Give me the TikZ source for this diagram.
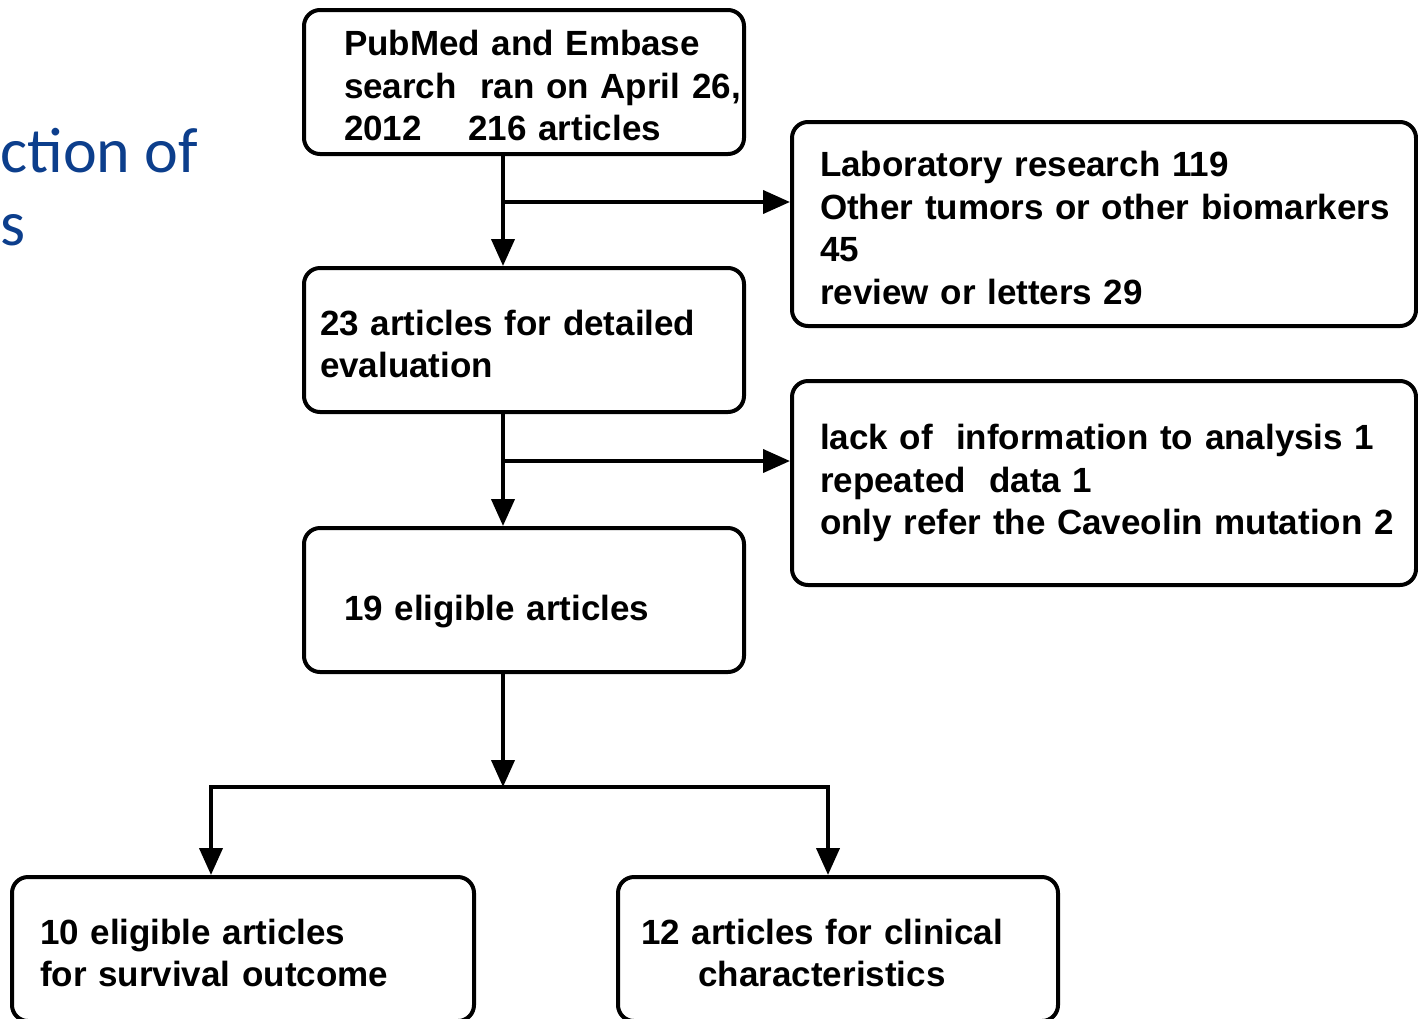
\documentclass[tikz,border=0pt]{standalone}
\usepackage{fontspec}
\setmainfont{Liberation Sans}
\newfontfamily\titlefont{Carlito}
\usetikzlibrary{arrows.meta}
\definecolor{slideblue}{RGB}{12,62,140}

\begin{document}
\begin{tikzpicture}[
    x=0.5pt, y=-0.5pt,
    stage/.style={draw, line width=2pt, rounded corners=8pt, inner xsep=0pt, inner ysep=0pt, text width=220pt, text height=16.5pt, minimum height=72pt, align=left, font=\fontsize{17.5}{21.3}\selectfont\bfseries},
    excl/.style={stage, text width=312pt, minimum height=102pt},
    indent/.style={execute at begin node={\leftskip=#1\rightskip=-12pt plus 2em}},
    arrow/.style={-{Triangle[length=13.5pt, width=11.5pt]}, line width=2pt}
]
\useasboundingbox (0,0) rectangle (1418,1018);

% cut-off slide title
\node[anchor=base west, inner sep=0pt, align=left, text=slideblue, font=\titlefont\fontsize{32}{36.5}\selectfont] (title) at (0,245) {ction of\\s};

\node[stage, indent=20pt] (search) at (524,82) {PubMed and Embase\\search\ \ ran on April 26,\\2012\ \ \ \ 216 articles};
\node[stage, indent=8pt] (eval) at (524,340) {23 articles for detailed\\evaluation};
\node[stage, indent=20pt, text height=20pt, text depth=0pt] (elig) at (524,600) {19 eligible articles};
\node[excl, indent=14pt] (lab) at (1104,224) {Laboratory research 119\\Other tumors or other biomarkers\\45\\review or letters 29};
\node[excl, indent=14pt, text height=13pt] (info) at (1104,483) {lack of\ \ information to analysis 1\\repeated\ \ data 1\\only refer the Caveolin mutation 2};
\node[stage, text width=231pt, indent=14pt] (surv) at (243,949) {10 eligible articles\\for survival outcome};
\node[stage, align=center, execute at begin node={\leftskip=0pt plus 1fil\rightskip=16pt plus 1fil\parfillskip=0pt}] (clin) at (838,949) {12 articles for clinical\\characteristics};

\coordinate (trunk) at (503,0);
\coordinate (split1) at (503,202);
\coordinate (split2) at (503,461);
\coordinate (fork) at (503,787);

\draw[arrow] (search.south -| trunk) -- (eval.north -| trunk);
\draw[arrow] (split1) -- (split1 -| lab.west);
\draw[arrow] (eval.south -| trunk) -- (elig.north -| trunk);
\draw[arrow] (split2) -- (split2 -| info.west);
\draw[arrow] (elig.south -| trunk) -- (fork);
\draw[arrow] (fork) -| ([xshift=-16pt]surv.north);
\draw[arrow] (fork) -| ([xshift=-5pt]clin.north);
\end{tikzpicture}
\end{document}
